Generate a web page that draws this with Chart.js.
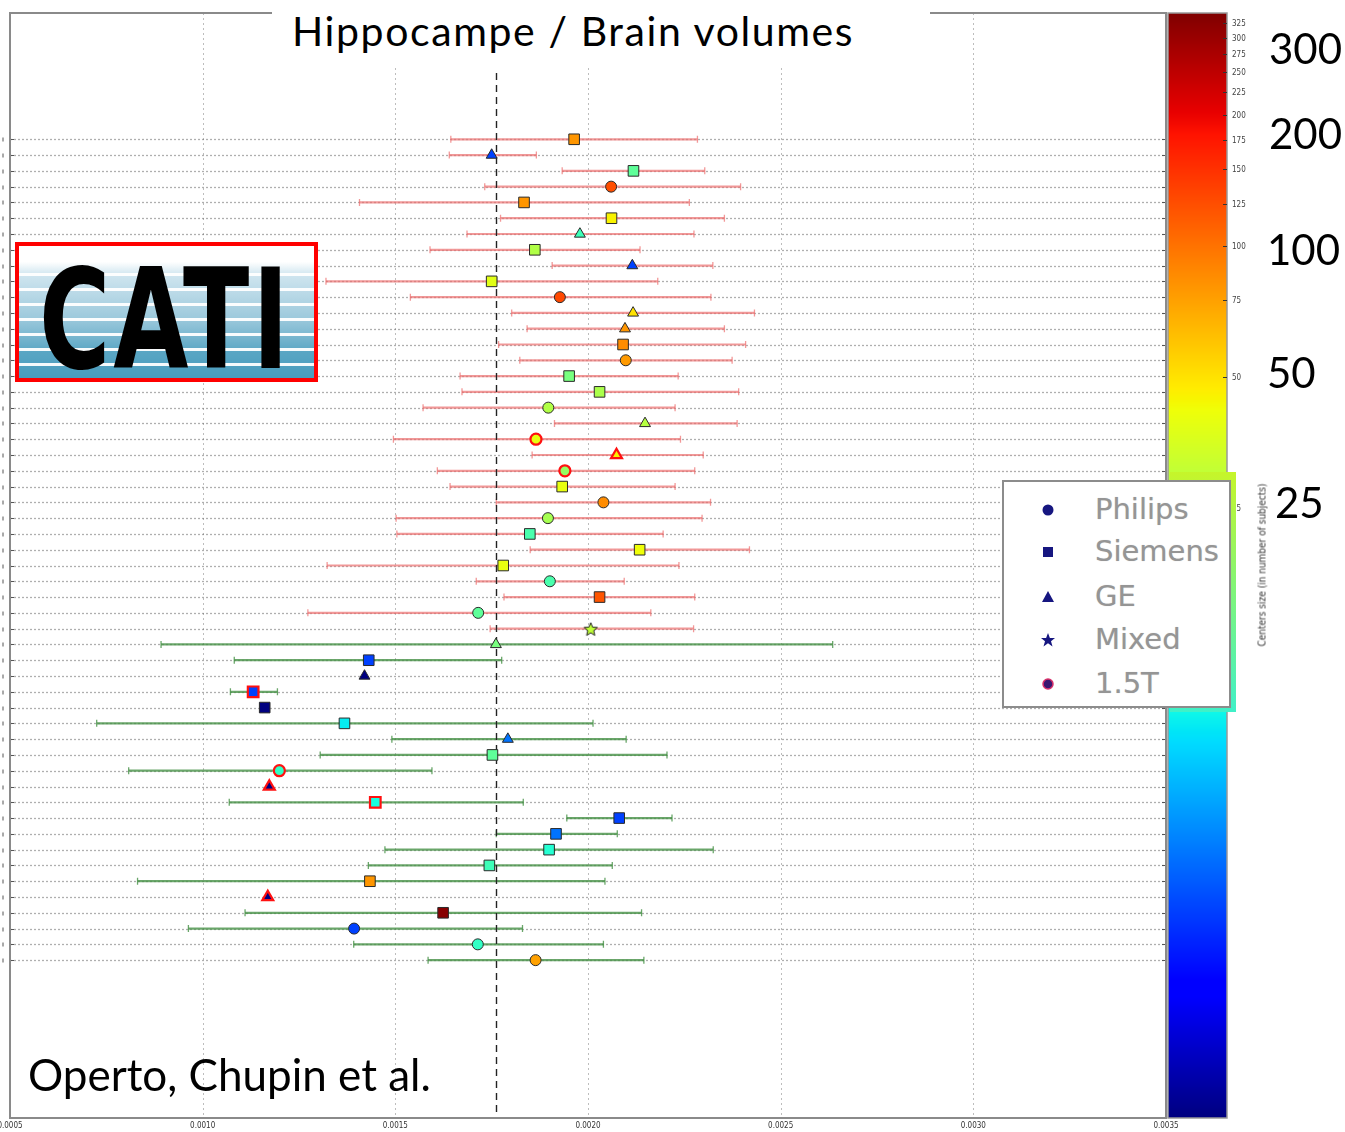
<!DOCTYPE html>
<html>
<head>
<meta charset="utf-8">
<script src="https://cdn.jsdelivr.net/npm/chart.js@4.4.1/dist/chart.umd.min.js"></script>
<style>
  html, body { margin: 0; padding: 0; background: #fff; }
  #wrap { position: relative; width: 1345px; height: 1132px; overflow: hidden; }
  #chart { position: absolute; left: 0; top: 0; }
  .title { position: absolute; left: 272px; top: 0; width: 658px; height: 68px; background: #fff; }
  .title span { position: absolute; left: 20px; top: 0; font-family: Lato, 'Open Sans', sans-serif; font-size: 41px;
                line-height: 62px; letter-spacing: 1.6px; color: #000; white-space: nowrap; }
  .credit { position: absolute; left: 28px; top: 1048px; font-family: Lato, sans-serif; font-size: 44px; color: #000; }
  .big { position: absolute; font-family: Lato, sans-serif; font-size: 42px; color: #000; line-height: 44px; }
  .logo { position: absolute; left: 15px; top: 242px; width: 303px; height: 140px; box-sizing: border-box;
          border: 4px solid #f00; overflow: hidden;
          background:
            repeating-linear-gradient(180deg, rgba(255,255,255,0) 0px, rgba(255,255,255,0) 12px, rgba(255,255,255,0.95) 12px, rgba(255,255,255,0.95) 15px),
            linear-gradient(180deg, #ffffff 0%, #ffffff 12%, #cfe5ef 22%, #9cc9dc 55%, #5aa6c4 80%, #4a9cbd 100%); }
  .logo span { position: absolute; left: 20px; top: -6px; font-family: 'DejaVu Sans Condensed', 'DejaVu Sans', sans-serif;
               font-weight: bold; font-size: 108px; letter-spacing: 3px; color: #000; transform: scaleY(1.28); transform-origin: top left; }
  .strip { position: absolute; left: 1170px; top: 472px; width: 66px; height: 240px;
           background: linear-gradient(180deg, #c6f52a 0%, #7ff57a 50%, #3ff0c8 100%); }
  .legend { position: absolute; left: 1002px; top: 480px; width: 229px; height: 228px; box-sizing: border-box;
            border: 2px solid #8c8c8c; background: #fff; }
  .legend div { position: absolute; left: 0; height: 40px; width: 229px; }
  .legend svg { position: absolute; left: 32px; top: 14px; }
  .legend b { position: absolute; left: 91px; top: 0; font-weight: normal; font-family: 'DejaVu Sans', sans-serif;
              font-size: 29px; line-height: 40px; color: #959595; text-shadow: 0 0 1px #c8c8c8; }
  .cblabel { position: absolute; left: 1262px; top: 565px; transform: translate(-50%, -50%) rotate(-90deg);
             font-family: 'DejaVu Sans Condensed', sans-serif; font-size: 10px; color: #333; white-space: nowrap; }
</style>
</head>
<body>
<div id="wrap">
  <canvas id="chart" width="1345" height="1132"></canvas>
  <div class="title"><span>Hippocampe / Brain volumes</span></div>
  <div class="logo"><span>CATI</span></div>
  <div class="credit">Operto, Chupin et al.</div>
  <div class="big" style="left:1269px; top:26px;">300</div>
  <div class="big" style="left:1269px; top:111px;">200</div>
  <div class="big" style="left:1267px; top:227px;">100</div>
  <div class="big" style="left:1267px; top:350px;">50</div>
  <div class="big" style="left:1275px; top:480px;">25</div>
  <div class="strip"></div>
  <div class="legend">
    <div style="top:7px"><svg width="24" height="14"><circle cx="12" cy="7" r="5.5" fill="#161680"/></svg><b>Philips</b></div>
    <div style="top:49px"><svg width="24" height="14"><rect x="7" y="2" width="10" height="10" fill="#161680"/></svg><b>Siemens</b></div>
    <div style="top:94px"><svg width="24" height="14"><polygon points="12,1 18,12 6,12" fill="#161680"/></svg><b>GE</b></div>
    <div style="top:137px"><svg width="24" height="14"><polygon points="12,0 13.9,5 19,5 15,8.2 16.5,13.5 12,10.3 7.5,13.5 9,8.2 5,5 10.1,5" fill="#161680"/></svg><b>Mixed</b></div>
    <div style="top:181px"><svg width="24" height="14"><circle cx="12" cy="7" r="5" fill="#3a1670" stroke="#d8306a" stroke-width="1.5"/></svg><b>1.5T</b></div>
  </div>
  <div class="cblabel">Centers size (in number of subjects)</div>
</div>
<script>
// x axis ticks and colour bar ticks
const xTicks = [0.0005, 0.0010, 0.0015, 0.0020, 0.0025, 0.0030, 0.0035];
const sizeTicks = [25, 50, 75, 100, 125, 150, 175, 200, 225, 250, 275, 300, 325];
const meanLine = 0.001761;
const groupSplit = 32; // first 32 centres drawn in red, the rest in green

// one entry per centre, top to bottom
const means = [0.001964, 0.001750, 0.002118, 0.002060, 0.001834, 0.002061, 0.001979, 0.001862, 0.002115, 0.001750,
  0.001927, 0.002117, 0.002096, 0.002091, 0.002098, 0.001951, 0.002030, 0.001897, 0.002148, 0.001865,
  0.002074, 0.001940, 0.001933, 0.002040, 0.001896, 0.001849, 0.002134, 0.001780, 0.001901, 0.002030,
  0.001715, 0.002007, 0.001761, 0.001431, 0.001420, 0.001131, 0.001161, 0.001368, 0.001792, 0.001752,
  0.001199, 0.001173, 0.001448, 0.002081, 0.001917, 0.001899, 0.001744, 0.001434, 0.001169, 0.001624,
  0.001393, 0.001714, 0.001864];
const lows = [0.001644, 0.001640, 0.001933, 0.001732, 0.001407, 0.001773, 0.001686, 0.001590, 0.001907, 0.001320,
  0.001539, 0.001802, 0.001842, 0.001768, 0.001823, 0.001668, 0.001673, 0.001572, 0.001913, 0.001495,
  0.001855, 0.001609, 0.001642, 0.001762, 0.001502, 0.001504, 0.001850, 0.001323, 0.001710, 0.001782,
  0.001273, 0.001746, 0.000892, 0.001082, null, 0.001072, null, 0.000725, 0.001491, 0.001305,
  0.000808, null, 0.001069, 0.001945, 0.001762, 0.001473, 0.001430, 0.000831, null, 0.001110,
  0.000963, 0.001392, 0.001585];
const highs = [0.002284, 0.001866, 0.002303, 0.002396, 0.002263, 0.002354, 0.002275, 0.002135, 0.002324, 0.002181,
  0.002319, 0.002432, 0.002354, 0.002409, 0.002374, 0.002234, 0.002391, 0.002226, 0.002387, 0.002240,
  0.002299, 0.002277, 0.002226, 0.002318, 0.002296, 0.002195, 0.002419, 0.002236, 0.002094, 0.002277,
  0.002163, 0.002274, 0.002635, 0.001776, null, 0.001194, null, 0.002013, 0.002099, 0.002205,
  0.001595, null, 0.001832, 0.002218, 0.002076, 0.002325, 0.002063, 0.002044, null, 0.002139,
  0.001830, 0.002040, 0.002145];
const vendors = ['S','G','S','P','S','S','G','S','G','S',
  'P','G','G','S','P','S','S','P','G','P',
  'G','P','S','P','P','S','S','S','P','S',
  'P','M','G','S','G','S','S','S','G','S',
  'P','G','S','S','S','S','S','S','G','S',
  'P','P','P'];
const fields = [3,3,3,3,3,3,3,3,3,3, 3,3,3,3,3,3,3,3,3,1.5,
  1.5,1.5,3,3,3,3,3,3,3,3, 3,3,3,3,3,1.5,3,3,3,3,
  1.5,1.5,1.5,3,3,3,3,3,1.5,3, 3,3,3];
const sizes = [80, 3, 15, 125, 80, 45, 12, 27, 3, 38,
  130, 50, 80, 85, 78, 18, 26, 27, 28, 40,
  45, 22, 40, 85, 25, 13, 42, 40, 13, 120,
  15, 30, 18, 3, 1, 3, 1, 8, 4, 15,
  11, 1, 9, 3, 4, 10, 12, 80, 1, 330,
  3, 11, 75];

const sizeMin = 1, sizeMax = 342;

function jet(t) {
  const at = pts => {
    for (let i = 1; i < pts.length; i++) {
      if (t <= pts[i][0]) {
        const [x0, y0] = pts[i - 1], [x1, y1] = pts[i];
        return y0 + (y1 - y0) * (t - x0) / (x1 - x0);
      }
    }
    return pts[pts.length - 1][1];
  };
  const r = at([[0, 0], [0.35, 0], [0.66, 1], [0.89, 1], [1, 0.5]]);
  const g = at([[0, 0], [0.125, 0], [0.375, 1], [0.64, 1], [0.91, 0], [1, 0]]);
  const b = at([[0, 0.5], [0.11, 1], [0.34, 1], [0.65, 0], [1, 0]]);
  return 'rgb(' + Math.round(r * 255) + ',' + Math.round(g * 255) + ',' + Math.round(b * 255) + ')';
}
const colorOf = s => jet(Math.max(0, Math.min(1, Math.log(s / sizeMin) / Math.log(sizeMax / sizeMin))));

function starImage(fill, r) {
  const c = document.createElement('canvas');
  const d = Math.ceil(r * 2 + 4);
  c.width = d; c.height = d;
  const g = c.getContext('2d');
  g.beginPath();
  for (let k = 0; k < 10; k++) {
    const rad = k % 2 ? r * 0.45 : r;
    const a = -Math.PI / 2 + k * Math.PI / 5;
    g.lineTo(d / 2 + rad * Math.cos(a), d / 2 + 1 + rad * Math.sin(a));
  }
  g.closePath();
  g.fillStyle = fill; g.fill();
  g.strokeStyle = '#222'; g.lineWidth = 1; g.stroke();
  return c;
}

const vendorNames = { P: 'Philips', S: 'Siemens', G: 'GE', M: 'Mixed' };
const vendorStyle = { P: ['circle', 5.5], S: ['rect', 7.5], G: ['triangle', 6.3], M: ['star', 7] };

const datasets = ['P', 'S', 'G', 'M'].map(v => {
  const idx = means.map((m, i) => i).filter(i => vendors[i] === v);
  return {
    label: vendorNames[v],
    data: idx.map(i => ({ x: means[i], y: i })),
    pointStyle: v === 'M' ? idx.map(i => starImage(colorOf(sizes[i]), 7)) : vendorStyle[v][0],
    pointRadius: vendorStyle[v][1],
    pointHoverRadius: vendorStyle[v][1],
    backgroundColor: idx.map(i => colorOf(sizes[i])),
    borderColor: idx.map(i => fields[i] === 1.5 ? '#ff1010' : '#2a2a2a'),
    borderWidth: idx.map(i => fields[i] === 1.5 ? 2.2 : 1),
    showLine: false
  };
});

const backdrop = {
  id: 'backdrop',
  beforeDatasetsDraw(chart) {
    const { ctx, chartArea: a, scales: { x, y } } = chart;
    ctx.save();
    // vertical dotted grid
    ctx.strokeStyle = '#bdbdbd'; ctx.lineWidth = 1; ctx.setLineDash([2, 3]);
    xTicks.slice(1, -1).forEach(v => {
      const px = Math.round(x.getPixelForValue(v)) + 0.5;
      ctx.beginPath(); ctx.moveTo(px, a.top); ctx.lineTo(px, a.bottom); ctx.stroke();
    });
    // horizontal dotted row lines + ticks
    ctx.strokeStyle = 'rgba(110,110,110,0.55)'; ctx.lineWidth = 1.3; ctx.setLineDash([2, 2]);
    means.forEach((m, i) => {
      const py = Math.round(y.getPixelForValue(i)) + 0.5;
      ctx.beginPath(); ctx.moveTo(a.left, py); ctx.lineTo(a.right, py); ctx.stroke();
    });
    ctx.setLineDash([]);
    ctx.strokeStyle = '#555'; ctx.lineWidth = 1;
    means.forEach((m, i) => {
      const py = Math.round(y.getPixelForValue(i)) + 0.5;
      ctx.beginPath();
      ctx.moveTo(a.left, py); ctx.lineTo(a.left + 4, py);
      ctx.moveTo(a.right - 4, py); ctx.lineTo(a.right, py);
      ctx.moveTo(3, py - 2); ctx.lineTo(3, py + 2);
      ctx.stroke();
    });
    // error bars
    means.forEach((m, i) => {
      if (lows[i] == null) return;
      const py = y.getPixelForValue(i);
      const x0 = x.getPixelForValue(lows[i]), x1 = x.getPixelForValue(highs[i]);
      ctx.strokeStyle = i < groupSplit ? 'rgba(236,110,110,0.7)' : 'rgba(70,145,70,0.8)';
      ctx.lineWidth = 2.2;
      ctx.beginPath(); ctx.moveTo(x0, py); ctx.lineTo(x1, py); ctx.stroke();
      ctx.lineWidth = 1.3;
      ctx.beginPath();
      ctx.moveTo(x0, py - 3.5); ctx.lineTo(x0, py + 3.5);
      ctx.moveTo(x1, py - 3.5); ctx.lineTo(x1, py + 3.5);
      ctx.stroke();
    });
    // mean line
    const mx = Math.round(x.getPixelForValue(meanLine)) + 0.5;
    ctx.strokeStyle = '#222'; ctx.lineWidth = 1.4; ctx.setLineDash([7, 5]);
    ctx.beginPath(); ctx.moveTo(mx, a.top); ctx.lineTo(mx, a.bottom); ctx.stroke();
    ctx.restore();
  },
  afterDraw(chart) {
    const { ctx, chartArea: a, scales: { c } } = chart;
    ctx.save();
    ctx.strokeStyle = '#8a8a8a'; ctx.lineWidth = 2;
    ctx.strokeRect(a.left, a.top, a.right - a.left, a.bottom - a.top);
    // colour bar
    const cx0 = a.right + 2, cx1 = a.right + 61;
    for (let py = Math.floor(c.top); py < Math.ceil(c.bottom); py++) {
      ctx.fillStyle = colorOf(c.getValueForPixel(py + 0.5));
      ctx.fillRect(cx0, py, cx1 - cx0, 1);
    }
    ctx.strokeStyle = '#999'; ctx.lineWidth = 1.5;
    ctx.strokeRect(cx0, c.top, cx1 - cx0, c.bottom - c.top);
    ctx.strokeStyle = '#333'; ctx.lineWidth = 1;
    ctx.fillStyle = '#444';
    ctx.font = "8px 'DejaVu Sans Condensed', sans-serif";
    ctx.textBaseline = 'middle';
    sizeTicks.forEach(v => {
      const py = Math.round(c.getPixelForValue(v)) + 0.5;
      ctx.beginPath(); ctx.moveTo(cx1 - 4, py); ctx.lineTo(cx1, py); ctx.stroke();
      ctx.fillText(String(v), cx1 + 5, py);
    });
    ctx.restore();
  }
};

new Chart(document.getElementById('chart'), {
  type: 'scatter',
  data: { datasets },
  options: {
    responsive: false,
    animation: false,
    events: [],
    layout: { padding: { left: 10, top: 13, right: 179, bottom: 0 } },
    plugins: { legend: { display: false }, tooltip: { enabled: false } },
    scales: {
      x: {
        type: 'linear', min: 0.0005, max: 0.0035, bounds: 'data',
        grid: { display: false, drawTicks: false }, border: { display: false },
        afterBuildTicks: s => { s.ticks = xTicks.map(v => ({ value: v })); },
        afterFit: s => { s.height = 14; s.paddingLeft = 0; s.paddingRight = 0; },
        ticks: { padding: 3, maxRotation: 0, autoSkip: false, color: '#333',
                 font: { family: "'DejaVu Sans Condensed', sans-serif", size: 8 },
                 callback: v => v.toFixed(4) }
      },
      y: { type: 'linear', min: -8, max: 62, reverse: true, display: false },
      c: { type: 'logarithmic', min: sizeMin, max: sizeMax, bounds: 'data', position: 'right', display: false }
    }
  },
  plugins: [backdrop]
});
</script>
</body>
</html>
